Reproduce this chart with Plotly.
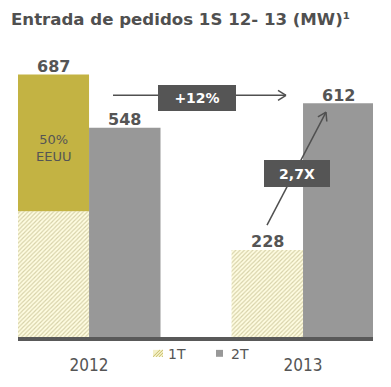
import plotly.graph_objects as go

# ---- data ----
years = ["2012", "2013"]
t1_values = [329, 228]          # 1T (hatched)
eeuu_values = [358, None]       # EEUU share on top of 2012 1T (olive)
t2_values = [548, 612]          # 2T (grey)
t1_labels = ["", "228"]
eeuu_labels = ["687", ""]
t2_labels = ["548", "612"]
eeuu_note = "50%<br>EEUU"
growth_label = "+12%"
mult_label = "2,7X"
title_text = "Entrada de pedidos 1S 12- 13 (MW)¹"

# ---- geometry helpers (pixel -> paper) ----
W, H = 391, 387
ML, MR, MT, MB = 18, 18, 31, 47
PW, PH = W - ML - MR, H - MT - MB


def px(x):
    return (x - ML) / PW


def py(y):
    return (H - MB - y) / PH


GREY_TXT = "#555555"
OLIVE = "#C3B343"
GREY_BAR = "#989898"
BOX = "#555555"
FONT = "DejaVu Sans"
xpos = list(range(len(years)))
HALF = 35.75  # half bar width in px (offset of each bar from the group centre)

fig = go.Figure()

fig.add_bar(
    x=xpos, y=t1_values, offsetgroup="a", name="1T",
    marker=dict(color="#FFFDE2", line=dict(width=0),
                pattern=dict(shape="/", size=3, solidity=0.38,
                             fgcolor="#ADA56E", bgcolor="#FFFDE2")),
    showlegend=False,
)
fig.add_bar(
    x=xpos, y=eeuu_values, base=t1_values, offsetgroup="a", name="EEUU",
    marker=dict(color=OLIVE, line=dict(width=0)),
    showlegend=False,
)
fig.add_bar(
    x=xpos, y=t2_values, offsetgroup="b", name="2T",
    marker=dict(color=GREY_BAR, line=dict(width=0)),
    showlegend=False,
)

fig.update_layout(
    width=W, height=H,
    margin=dict(l=ML, r=MR, t=MT, b=MB),
    paper_bgcolor="white", plot_bgcolor="white",
    barmode="group", bargap=0.332, bargroupgap=0,
    showlegend=False,
    font=dict(family=FONT, color=GREY_TXT),
)
fig.update_xaxes(
    range=[-0.332, 1.327], tickvals=xpos, ticktext=years,
    showgrid=False, zeroline=False, showline=True, linecolor="#595959",
    linewidth=4, ticks="", ticklabelstandoff=10,
    tickfont=dict(family="DejaVu Sans Condensed, DejaVu Sans", size=17, color=GREY_TXT),
)
fig.update_yaxes(range=[0, 801], visible=False)

# value labels above bars (positioned from the data)
LBL_FONT = dict(family=FONT, size=16, color=GREY_TXT, weight="bold")
for i in xpos:
    left_top = t1_values[i] + (eeuu_values[i] or 0)
    left_lbl = eeuu_labels[i] or t1_labels[i]
    fig.add_annotation(text=left_lbl, x=xpos[i], y=left_top, xref="x", yref="y",
                       xshift=-HALF, yshift=8, yanchor="middle",
                       showarrow=False, font=LBL_FONT)
    fig.add_annotation(text=t2_labels[i], x=xpos[i], y=t2_values[i], xref="x", yref="y",
                       xshift=HALF, yshift=8, yanchor="middle",
                       showarrow=False, font=LBL_FONT)

# title
fig.add_annotation(
    text=title_text, xref="paper", yref="paper",
    x=px(9), y=py(19), xanchor="left", yanchor="middle", showarrow=False,
    font=dict(family=FONT, size=16.6, color="#505050", weight="bold"),
)

# note inside olive bar
fig.add_annotation(
    text=eeuu_note, xref="x", yref="paper", x=xpos[0], xshift=-HALF, y=py(131),
    showarrow=False, align="center",
    font=dict(family=FONT, size=13, color=GREY_TXT),
)

# arrows (shapes) -------------------------------------------------------
shapes = []
LC = "#505050"


def seg(x0, y0, x1, y1, w=1.5):
    shapes.append(dict(type="line", xref="paper", yref="paper",
                       x0=px(x0), y0=py(y0), x1=px(x1), y1=py(y1),
                       line=dict(color=LC, width=w)))


# +12% arrow
seg(113, 96, 286, 96)
seg(286, 96, 278, 91)
seg(286, 96, 278, 101)
# 2,7X arrow
seg(267, 227, 326, 113)
seg(326, 113, 326.8, 122.4)
seg(326, 113, 317.9, 117.8)

# legend icons
shapes.append(dict(type="rect", xref="paper", yref="paper",
                   x0=px(153), x1=px(163), y0=py(360), y1=py(353),
                   fillcolor="#F4F0C8", line=dict(width=0)))
for d in (0, 3, 6, 9):
    shapes.append(dict(type="line", xref="paper", yref="paper",
                       x0=px(153 + d), y0=py(360), x1=px(min(153 + d + 7, 163)),
                       y1=py(360 - min(7, 163 - 153 - d)),
                       line=dict(color="#C8BE6A", width=1)))
shapes.append(dict(type="rect", xref="paper", yref="paper",
                   x0=px(216), x1=px(223), y0=py(360), y1=py(353),
                   fillcolor=GREY_BAR, line=dict(width=0)))
fig.update_layout(shapes=shapes)

# legend texts
fig.add_annotation(text="1T", xref="paper", yref="paper", x=px(166), y=py(357),
                   xanchor="left", yanchor="middle", showarrow=False,
                   font=dict(family=FONT, size=14, color=GREY_TXT))
fig.add_annotation(text="2T", xref="paper", yref="paper", x=px(229), y=py(357),
                   xanchor="left", yanchor="middle", showarrow=False,
                   font=dict(family=FONT, size=14, color=GREY_TXT))

# boxes
fig.add_annotation(text=growth_label, xref="paper", yref="paper",
                   x=px(197), y=py(99), xanchor="center", yanchor="middle",
                   showarrow=False, bgcolor=BOX, borderwidth=0, borderpad=0,
                   width=78, height=26,
                   font=dict(family=FONT, size=14, color="white", weight="bold"))
fig.add_annotation(text=mult_label, xref="paper", yref="paper",
                   x=px(297), y=py(174.5), xanchor="center", yanchor="middle",
                   showarrow=False, bgcolor=BOX, borderwidth=0, borderpad=0,
                   width=66, height=27,
                   font=dict(family=FONT, size=14, color="white", weight="bold"))

fig.write_html(
    "out.html",
    config={"displayModeBar": False},
    post_script="document.body.style.margin='0';document.body.style.padding='0';",
)
